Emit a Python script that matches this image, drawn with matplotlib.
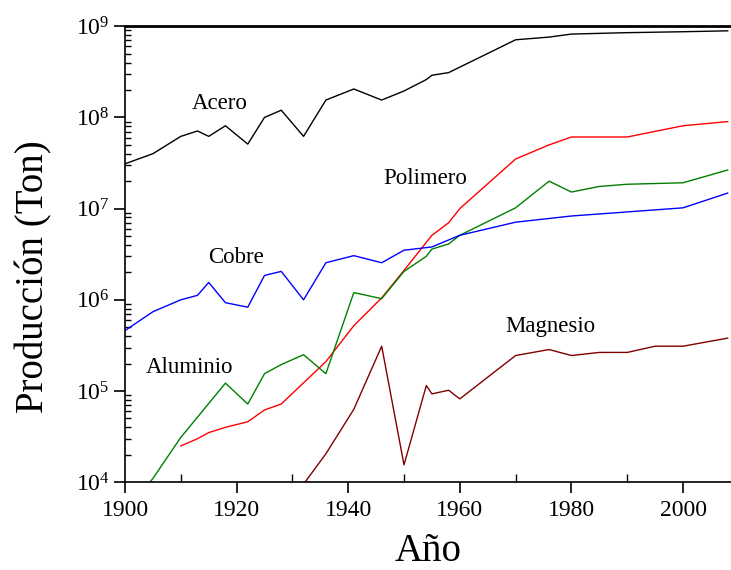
import matplotlib
matplotlib.use("Agg")
import matplotlib.pyplot as plt
import matplotlib.ticker as ticker

plt.rcParams['font.family'] = ['Liberation Serif', 'DejaVu Serif']
plt.rcParams['mathtext.fontset'] = 'custom'
plt.rcParams['mathtext.rm'] = 'Liberation Serif'
plt.rcParams['mathtext.default'] = 'regular'

# production data (tons)
acero_years = [1900, 1905, 1910, 1913, 1915, 1918, 1922, 1925, 1928, 1932, 1936,
               1941, 1946, 1950, 1954, 1955, 1958, 1970, 1976, 1980, 1990, 2000, 2008]
acero = [3.1e7, 4.0e7, 6.2e7, 7.1e7, 6.2e7, 8.1e7, 5.1e7, 1.0e8, 1.2e8, 6.2e7, 1.55e8,
         2.05e8, 1.55e8, 1.95e8, 2.6e8, 2.9e8, 3.1e8, 7.1e8, 7.6e8, 8.2e8, 8.5e8, 8.7e8, 8.9e8]

cobre_years = [1900, 1905, 1910, 1913, 1915, 1918, 1922, 1925, 1928, 1932, 1936,
               1941, 1946, 1950, 1955, 1960, 1970, 1980, 1990, 2000, 2008]
cobre = [4.6e5, 7.4e5, 1.0e6, 1.12e6, 1.55e6, 9.3e5, 8.3e5, 1.85e6, 2.05e6, 1.0e6, 2.55e6,
         3.05e6, 2.55e6, 3.5e6, 3.8e6, 5.1e6, 7.1e6, 8.3e6, 9.2e6, 1.02e7, 1.48e7]

polimero_years = [1910, 1913, 1915, 1918, 1922, 1925, 1928, 1936, 1941, 1946, 1950,
                  1955, 1958, 1960, 1970, 1976, 1980, 1990, 2000, 2008]
polimero = [2.5e4, 3.0e4, 3.5e4, 4.0e4, 4.6e4, 6.2e4, 7.2e4, 2.1e5, 5.2e5, 1.05e6, 2.1e6,
            5.1e6, 7.0e6, 1.0e7, 3.5e7, 5.0e7, 6.1e7, 6.1e7, 8.1e7, 9.0e7]

aluminio_years = [1900, 1905, 1910, 1918, 1922, 1925, 1928, 1932, 1936, 1941, 1946,
                  1950, 1954, 1955, 1958, 1960, 1970, 1976, 1980, 1985, 1990, 2000, 2008]
aluminio = [4.5e3, 1.1e4, 3.1e4, 1.22e5, 7.2e4, 1.55e5, 1.95e5, 2.5e5, 1.55e5, 1.2e6, 1.03e6,
            2.05e6, 3.0e6, 3.6e6, 4.1e6, 5.1e6, 1.02e7, 2.0e7, 1.52e7, 1.75e7, 1.85e7, 1.92e7, 2.65e7]

magnesio_years = [1930, 1936, 1941, 1946, 1950, 1954, 1955, 1958, 1960, 1970, 1976,
                  1980, 1985, 1990, 1995, 2000, 2008]
magnesio = [6.5e3, 2.05e4, 6.3e4, 3.1e5, 1.55e4, 1.15e5, 9.3e4, 1.02e5, 8.2e4, 2.45e5, 2.85e5,
            2.45e5, 2.65e5, 2.65e5, 3.1e5, 3.1e5, 3.8e5]

labels = ["Acero", "Polimero", "Cobre", "Aluminio", "Magnesio"]
label_x = [1917.0, 1953.8, 1919.9, 1911.6, 1976.2]
label_y = [1.43e8, 2.15e7, 2.9e6, 1.8e5, 5.1e5]

fig = plt.figure(figsize=(7.31, 5.70), dpi=100)
ax = fig.add_axes([0.171, 0.154, 0.829, 0.800])

lw = 1.0
ax.plot(acero_years, acero, color='black', lw=lw)
ax.plot(polimero_years, polimero, color='#ff0000', lw=lw)
ax.plot(aluminio_years, aluminio, color='#008000', lw=lw)
ax.plot(cobre_years, cobre, color='#0000ff', lw=lw)
ax.plot(magnesio_years, magnesio, color='#800000', lw=lw)

for t, x, y in zip(labels, label_x, label_y):
    ax.text(x, y, t, fontsize=16.5, ha='center', va='center')

ax.set_yscale('log')
ax.set_ylim(1e4, 1e9)
ax.set_xlim(1900, 2008.6)

ax.xaxis.set_major_locator(ticker.MultipleLocator(20))
ax.xaxis.set_minor_locator(ticker.MultipleLocator(10))
ax.yaxis.set_major_locator(ticker.LogLocator(base=10, numticks=10))
ax.yaxis.set_minor_locator(ticker.LogLocator(base=10, subs=range(2, 10), numticks=20))
ax.yaxis.set_minor_formatter(ticker.NullFormatter())

ax.tick_params(which='major', direction='out', length=8, width=1.2, labelsize=17)
ax.tick_params(which='minor', direction='in', length=4, width=1)
ax.tick_params(axis='x', which='minor', length=6)
ax.tick_params(axis='x', pad=5)
ax.tick_params(axis='y', pad=3)

ax.spines['right'].set_visible(False)
ax.spines['top'].set_linewidth(2)
ax.spines['left'].set_linewidth(1.2)
ax.spines['bottom'].set_linewidth(1.2)

ax.set_ylabel("Producción (Ton)", fontsize=28)
ax.yaxis.set_label_coords(-0.12, 0.45)
ax.set_xlabel("Año", fontsize=28)
ax.xaxis.set_label_coords(0.5, -0.112)

fig.savefig("out.png", dpi=100)
